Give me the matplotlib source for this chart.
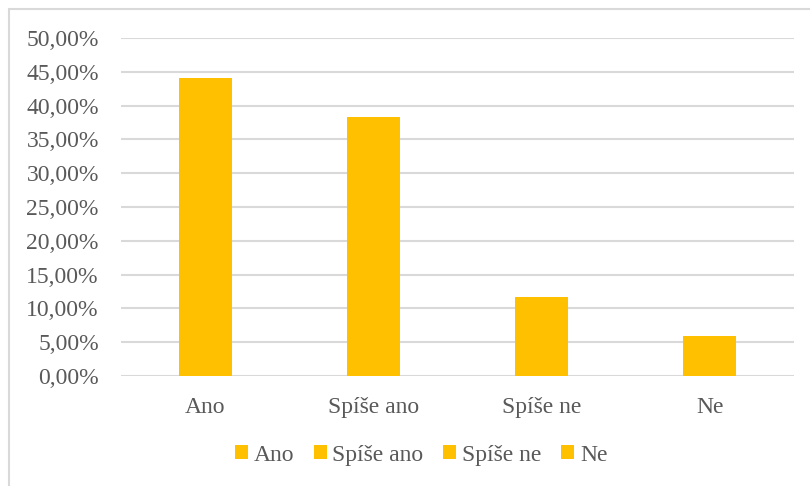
import matplotlib.pyplot as plt
from matplotlib.patches import Rectangle, Patch
from matplotlib.ticker import FuncFormatter

kategorie = ["Ano", "Sp\u00ed\u0161e ano", "Sp\u00ed\u0161e ne", "Ne"]
podil = [0.4412, 0.3824, 0.1176, 0.0588]
barva = "#FFC000"
seda = "#595959"

plt.rcParams['font.family'] = 'Liberation Serif'

fig = plt.figure(figsize=(8.1, 4.86), dpi=100)
# chart frame (cut off at right and bottom)
fig.patches.append(Rectangle((9 / 810, -0.1), 1.2, 1 - 9 / 486 + 0.1,
                             transform=fig.transFigure, fill=False,
                             edgecolor="#D9D9D9", linewidth=1.5))

ax = fig.add_axes([121 / 810, 1 - 376 / 486, (794 - 121) / 810, (376 - 38) / 486])
x = range(len(kategorie))
ax.bar(x, podil, width=0.315, color=barva, zorder=3)

ax.set_xlim(-0.5, len(kategorie) - 0.5)
ax.set_ylim(0, 0.5)
ax.set_yticks([i * 0.05 for i in range(11)])
ax.yaxis.set_major_formatter(FuncFormatter(lambda v, p: f"{v * 100:.2f}%".replace(".", ",")))
ax.set_xticks(list(x))
ax.set_xticklabels(kategorie)
ax.tick_params(axis="both", length=0, labelsize=17, labelcolor=seda)
ax.tick_params(axis="y", pad=16)
ax.tick_params(axis="x", pad=15)
ax.grid(axis="y", color="#D9D9D9", linewidth=1.5, zorder=0)
for s in ax.spines.values():
    s.set_visible(False)

handles = [Patch(facecolor=barva, label=k) for k in kategorie]
fig.legend(handles=handles, loc="center", bbox_to_anchor=(421 / 810, 1 - 455 / 486),
           ncol=4, frameon=False, fontsize=17, labelcolor=seda,
           handlelength=0.55, handleheight=0.55, handletextpad=0.25, columnspacing=0.83)

fig.savefig("out.png", dpi=100)
